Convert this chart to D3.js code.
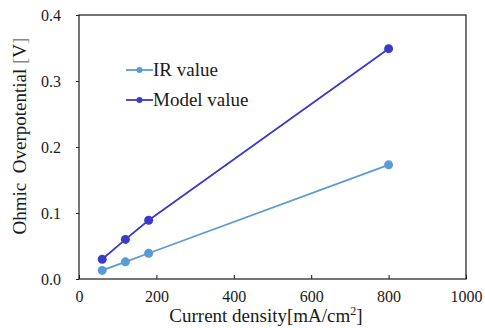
<!DOCTYPE html>
<html>
<head>
<meta charset="utf-8">
<script src="https://cdn.jsdelivr.net/npm/d3@7"></script>
<style>
  body { margin: 0; background: #fff; }
  svg text { font-family: "Liberation Serif", "Times New Roman", serif; fill: #1a1a1a; }
</style>
</head>
<body>
<div id="chart"></div>
<script>
const currents = [60, 120, 180, 800];
const irValues = [0.013, 0.026, 0.039, 0.173];
const modelValues = [0.030, 0.060, 0.089, 0.349];
const xTicks = [0, 200, 400, 600, 800, 1000];
const yTicks = [0.0, 0.1, 0.2, 0.3, 0.4];

const series = [
  { name: 'IR value', values: irValues, color: '#5b9bd5' },
  { name: 'Model value', values: modelValues, color: '#3a3acb' }
];

const width = 485, height = 328;
const margin = { left: 79, right: 19, top: 15, bottom: 49 };

const svg = d3.select('#chart').append('svg')
  .attr('width', width)
  .attr('height', height);

const x = d3.scaleLinear().domain([0, 1000]).range([margin.left, width - margin.right]);
const y = d3.scaleLinear().domain([0, 0.4]).range([height - margin.bottom, margin.top]);

// frame
svg.append('rect')
  .attr('x', x(0)).attr('y', y(0.4))
  .attr('width', x(1000) - x(0)).attr('height', y(0) - y(0.4))
  .attr('fill', 'none').attr('stroke', '#1a1a1a').attr('stroke-width', 1.2);

// x axis, ticks pointing up into the plot
const xAxis = svg.append('g')
  .attr('transform', `translate(0,${y(0)})`)
  .call(d3.axisBottom(x).tickValues(xTicks).tickSizeInner(-4).tickSizeOuter(0).tickPadding(12).tickFormat(d3.format('d')));
xAxis.select('.domain').remove();
xAxis.selectAll('line').attr('stroke', '#1a1a1a');
xAxis.selectAll('text').attr('font-size', 16);

// y axis, short ticks outward
const yAxis = svg.append('g')
  .attr('transform', `translate(${x(0)},0)`)
  .call(d3.axisLeft(y).tickValues(yTicks).tickSizeInner(3).tickSizeOuter(0).tickPadding(15).tickFormat(d3.format('.1f')));
yAxis.select('.domain').remove();
yAxis.selectAll('line').attr('stroke', '#1a1a1a');
yAxis.selectAll('text').attr('font-size', 16);

// lines and markers
const line = d3.line()
  .x((d, i) => x(currents[i]))
  .y(d => y(d));

series.forEach(s => {
  svg.append('path')
    .attr('d', line(s.values))
    .attr('fill', 'none')
    .attr('stroke', s.color)
    .attr('stroke-width', 1.8);
  svg.selectAll(null)
    .data(s.values)
    .enter().append('circle')
    .attr('cx', (d, i) => x(currents[i]))
    .attr('cy', d => y(d))
    .attr('r', 4.5)
    .attr('fill', s.color);
});

// legend
const legend = svg.append('g').attr('transform', 'translate(126,70)');
series.forEach((s, i) => {
  const g = legend.append('g').attr('transform', `translate(0,${i * 30})`);
  g.append('line').attr('x1', 0).attr('x2', 27).attr('y1', 0).attr('y2', 0)
    .attr('stroke', s.color).attr('stroke-width', 1.8);
  g.append('circle').attr('cx', 13.5).attr('cy', 0).attr('r', 3).attr('fill', s.color);
  g.append('text').attr('x', 27).attr('y', 6).attr('font-size', 19).text(s.name);
});

// axis titles
const xTitle = svg.append('text')
  .attr('x', 266).attr('y', 322)
  .attr('text-anchor', 'middle')
  .attr('font-size', 19);
xTitle.append('tspan').text('Current density[mA/cm');
xTitle.append('tspan').attr('font-size', 12).attr('dy', -7).text('2');
xTitle.append('tspan').attr('dy', 7).text(']');

const yTitle = svg.append('text')
  .attr('transform', 'translate(26,136) rotate(-90)')
  .attr('text-anchor', 'middle')
  .style('white-space', 'pre')
  .attr('font-size', 19);
yTitle.append('tspan').text('Ohmic  Overpotential ');
yTitle.append('tspan').attr('fill', '#888').text('[');
yTitle.append('tspan').text('V');
yTitle.append('tspan').attr('fill', '#888').text(']');
</script>
</body>
</html>
